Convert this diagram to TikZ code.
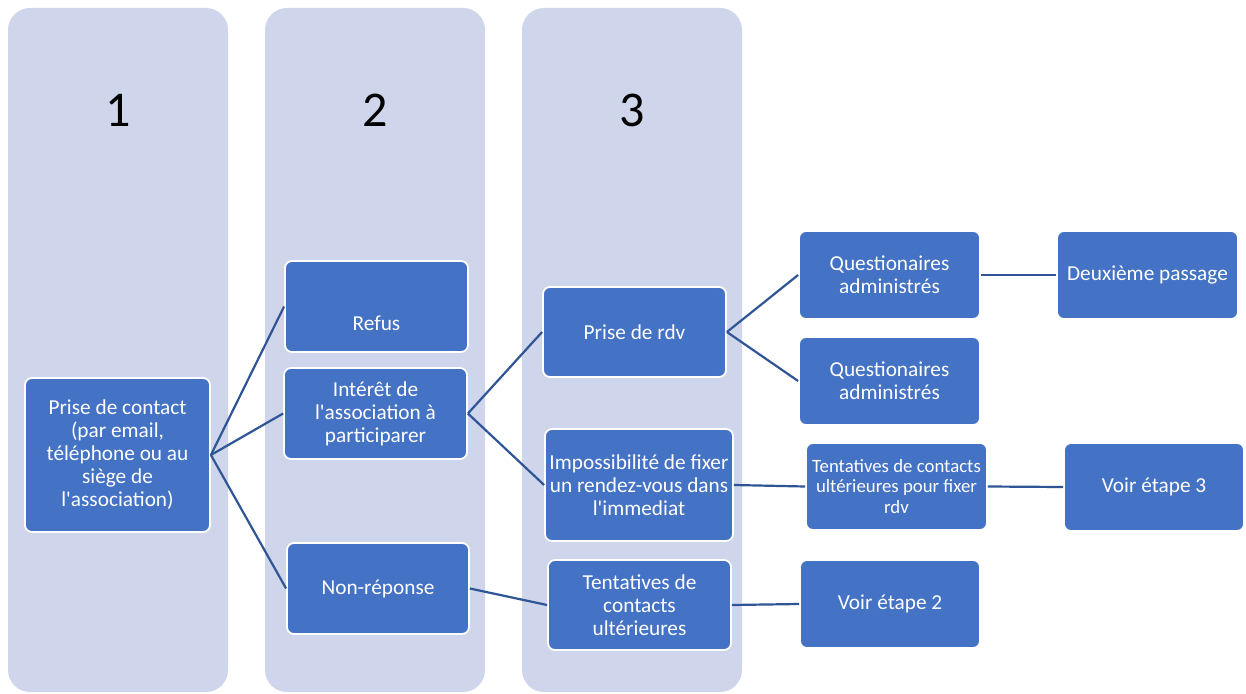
\documentclass[tikz,border=0pt]{standalone}
\usepackage{fontspec}
\setmainfont{Carlito}
\newfontfamily\boxfont{Carlito}
\definecolor{colbg}{HTML}{CFD5EA}
\definecolor{boxblue}{HTML}{4472C4}
\definecolor{linkblue}{HTML}{2F5597}
\begin{document}
\begin{tikzpicture}[x=1pt,y=-1pt,
  column/.style={fill=colbg,draw=none,rounded corners=22pt},
  box/.style={rectangle,fill=boxblue,draw=white,line width=1.8pt,rounded corners=7pt,
    text=white,align=center,font=\boxfont\fontsize{21.3}{23}\selectfont,inner sep=2pt},
  smallbox/.style={box,font=\boxfont\fontsize{18.8}{20.5}\selectfont},
  txt/.style={text=white,font=\boxfont\fontsize{21.3}{23}\selectfont,inner sep=0pt},
  num/.style={font=\boxfont\fontsize{50}{54}\selectfont,text=black,inner sep=0pt},
  link/.style={draw=linkblue,line width=2.2pt}]
\useasboundingbox (0,0) rectangle (1246,693);
\fill[white] (0,0) rectangle (1246,693);
% columns
\draw[column] (8,8) rectangle (228,692);
\draw[column] (265,8) rectangle (485,692);
\draw[column] (522,8) rectangle (742,692);
\node[num] (n1) at (118,110) {1};
\node[num] (n2) at (375,110) {2};
\node[num] (n3) at (632,110) {3};
% boxes
\node[box,minimum width=185pt,minimum height=154pt] (pc) at (117.5,455) {Prise de contact\\(par email,\\téléphone ou au\\siège de\\l'association)};
\node[box,minimum width=183pt,minimum height=91pt] (refus) at (376.5,306.5) {};
\node[txt] (refustxt) at (376.5,323) {Refus};
\node[box,minimum width=183pt,minimum height=91pt] (int) at (375.5,413.5) {Intérêt de\\l'association à\\participarer};
\node[box,minimum width=182pt,minimum height=91pt] (nonrep) at (378,588.5) {Non-réponse};
\node[box,minimum width=183pt,minimum height=90pt] (rdv) at (634.5,332) {Prise de rdv};
\node[box,minimum width=188pt,minimum height=112pt] (imp) at (639,485) {Impossibilité de fixer\\un rendez-vous dans\\l'immediat};
\node[box,minimum width=183pt,minimum height=90pt] (tent) at (639.5,605) {Tentatives de\\contacts\\ultérieures};
\node[box,minimum width=181pt,minimum height=88pt] (q1) at (889.5,275) {Questionaires\\administrés};
\node[box,minimum width=181pt,minimum height=88pt] (q2) at (889.5,381) {Questionaires\\administrés};
\node[smallbox,minimum width=181pt,minimum height=87pt] (tfix) at (896.5,486.5) {Tentatives de contacts\\ultérieures pour fixer\\rdv};
\node[box,minimum width=181pt,minimum height=88pt] (deux) at (1147.5,275) {Deuxième passage};
\node[box,minimum width=180pt,minimum height=88pt] (v3) at (1154,487) {Voir étape 3};
\node[box,minimum width=180pt,minimum height=88pt] (v2) at (890,604) {Voir étape 2};
% connectors
\draw[link] (pc.east) -- (refus.west);
\draw[link] (pc.east) -- (int.west);
\draw[link] (pc.east) -- (nonrep.west);
\draw[link] (int.east) -- (rdv.west);
\draw[link] (int.east) -- (imp.west);
\draw[link] (nonrep.east) -- (tent.west);
\draw[link] (rdv.east) -- (q1.west);
\draw[link] (rdv.east) -- (q2.west);
\draw[link] (imp.east) -- (tfix.west);
\draw[link] (q1.east) -- (deux.west);
\draw[link] (tfix.east) -- (v3.west);
\draw[link] (tent.east) -- (v2.west);
\end{tikzpicture}
\end{document}
